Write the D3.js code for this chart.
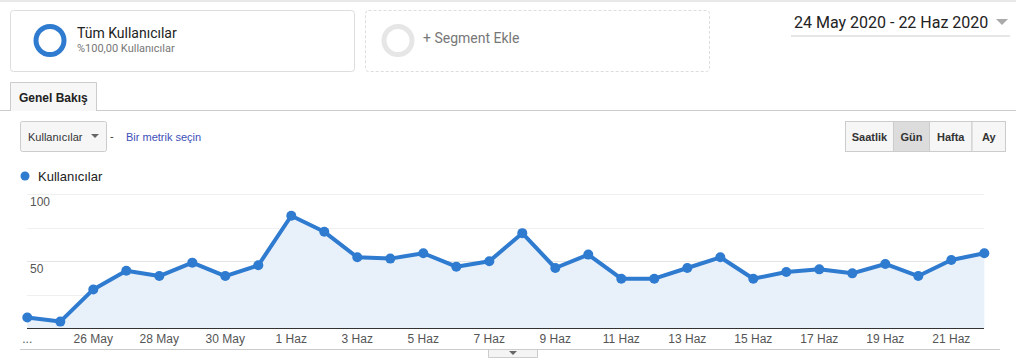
<!DOCTYPE html>
<html><head><meta charset="utf-8">
<script src="https://cdn.jsdelivr.net/npm/d3@7"></script>
<style>
html,body{margin:0;padding:0;background:#fff;}
svg{display:block;}
</style></head><body>
<svg id="c" width="1016" height="364"></svg>
<script>
const dates = ["24 May","25 May","26 May","27 May","28 May","29 May","30 May","31 May","1 Haz","2 Haz","3 Haz","4 Haz","5 Haz","6 Haz","7 Haz","8 Haz","9 Haz","10 Haz","11 Haz","12 Haz","13 Haz","14 Haz","15 Haz","16 Haz","17 Haz","18 Haz","19 Haz","20 Haz","21 Haz","22 Haz"];
const users = [8,5,29,43,39,49,39,47,84,72,53,52,56,46,50,71,45,55,37,37,45,53,37,42,44,41,48,39,51,56];
const xTickLabels = ["...","26 May","28 May","30 May","1 Haz","3 Haz","5 Haz","7 Haz","9 Haz","11 Haz","13 Haz","15 Haz","17 Haz","19 Haz","21 Haz"];
const yTicks = [0,25,50,75,100];
const yLabels = [50,100];
const periodButtons = ["Saatlik","Gün","Hafta","Ay"];

const svg = d3.select("#c");
const ROB = "Roboto, 'Liberation Sans', sans-serif";
const ARI = "'Liberation Sans', Arial, sans-serif";

// top border
svg.append("rect").attr("x",0).attr("y",0).attr("width",1016).attr("height",2).attr("fill","#e8e8e8");

// segment box 1
svg.append("rect").attr("x",10.5).attr("y",10.5).attr("width",344).attr("height",61).attr("rx",3)
  .attr("fill","#fff").attr("stroke","#ddd");
svg.append("circle").attr("cx",50).attr("cy",40.5).attr("r",14).attr("fill","none").attr("stroke","#2f7bd0").attr("stroke-width",5);
svg.append("text").attr("x",77).attr("y",38).attr("font-family",ROB).attr("font-size",14).attr("fill","#222").text("Tüm Kullanıcılar");
svg.append("text").attr("x",77).attr("y",52).attr("font-family",ROB).attr("font-size",11).attr("fill","#777").text("%100,00 Kullanıcılar");

// segment box 2
svg.append("rect").attr("x",365.5).attr("y",10.5).attr("width",344).attr("height",61).attr("rx",3)
  .attr("fill","#fff").attr("stroke","#ddd").attr("stroke-dasharray","3,2");
svg.append("circle").attr("cx",398).attr("cy",40.5).attr("r",14).attr("fill","none").attr("stroke","#e6e6e6").attr("stroke-width",5);
svg.append("text").attr("x",423).attr("y",43).attr("font-family",ROB).attr("font-size",14).attr("fill","#777").text("+ Segment Ekle");

// date range
svg.append("text").attr("x",794).attr("y",28).attr("font-family",ROB).attr("font-size",16).attr("fill","#222").text("24 May 2020 - 22 Haz 2020");
svg.append("path").attr("d","M996,19 L1008,19 L1002,25 Z").attr("fill","#aaa");
svg.append("rect").attr("x",791).attr("y",35).attr("width",219).attr("height",2).attr("fill","#e6e6e6");

// tab
svg.append("line").attr("x1",0).attr("x2",1016).attr("y1",110.5).attr("y2",110.5).attr("stroke","#ccc");
svg.append("path").attr("d","M10.5,111 L10.5,82.5 L96.5,82.5 L96.5,111").attr("fill","#f7f7f7").attr("stroke","#ccc");
svg.append("text").attr("x",19).attr("y",102).attr("font-family",ARI).attr("font-weight","bold").attr("font-size",12).attr("fill","#222").text("Genel Bakış");

// metric dropdown
svg.append("rect").attr("x",20.5).attr("y",121.5).attr("width",86).attr("height",30).attr("rx",2)
  .attr("fill","#f6f6f6").attr("stroke","#ccc");
svg.append("text").attr("x",28).attr("y",141).attr("font-family",ARI).attr("font-size",11).attr("fill","#333").text("Kullanıcılar");
svg.append("path").attr("d","M91,134 L99,134 L95,138 Z").attr("fill","#666");
svg.append("text").attr("x",110).attr("y",140).attr("font-family",ARI).attr("font-size",11).attr("fill","#333").text("-");
svg.append("text").attr("x",126).attr("y",141).attr("font-family",ARI).attr("font-size",11).attr("fill","#3d4fb8").text("Bir metrik seçin");

// period buttons
const bx = [845,893,929,971.5,1005];
const bg = svg.append("g");
periodButtons.forEach((b,i)=>{
  bg.append("rect").attr("x",bx[i]+0.5).attr("y",121.5).attr("width",bx[i+1]-bx[i]).attr("height",30)
    .attr("fill", b==="Gün" ? "#dcdcdc" : "#f6f6f6").attr("stroke","#ccc");
  bg.append("text").attr("x",(bx[i]+bx[i+1])/2+0.5).attr("y",141).attr("text-anchor","middle")
    .attr("font-family",ARI).attr("font-weight","bold").attr("font-size",11).attr("fill","#333").text(b);
});

// legend
svg.append("circle").attr("cx",25).attr("cy",176).attr("r",4.5).attr("fill","#2f7bd0");
svg.append("text").attr("x",38).attr("y",181).attr("font-family",ARI).attr("font-size",13).attr("fill","#222").text("Kullanıcılar");

// chart
const x = d3.scalePoint().domain(dates).range([27.3,984.3]);
const y = d3.scaleLinear().domain([0,100]).range([328.3,194.3]);

svg.append("g").selectAll("line").data(yTicks.filter(d=>d>0)).join("line")
  .attr("x1",27).attr("x2",984).attr("y1",d=>Math.round(y(d))+0.5).attr("y2",d=>Math.round(y(d))+0.5)
  .attr("stroke",d=>d===50?"#e4e4e4":"#efefef");

const data = dates.map((d,i)=>({d,v:users[i]}));
svg.append("path").datum(data)
  .attr("d",d3.area().x(p=>x(p.d)).y0(y(0)).y1(p=>y(p.v)))
  .attr("fill","#e8f0fa");

svg.append("g").selectAll("text").data(yLabels).join("text")
  .attr("x",30).attr("y",d=>y(d)+12).attr("font-family",ARI).attr("font-size",12).attr("fill","#555").text(d=>d);

svg.append("line").attr("x1",27).attr("x2",984).attr("y1",328.5).attr("y2",328.5).attr("stroke","#333").attr("stroke-width",1);

svg.append("path").datum(data)
  .attr("d",d3.line().x(p=>x(p.d)).y(p=>y(p.v)))
  .attr("fill","none").attr("stroke","#2f7bd0").attr("stroke-width",4).attr("stroke-linejoin","round");
svg.append("g").selectAll("circle").data(data).join("circle")
  .attr("cx",p=>x(p.d)).attr("cy",p=>y(p.v)).attr("r",5).attr("fill","#2f7bd0");

// x labels
const xLabelDates = dates.filter((d,i)=>i===0 || (i>=2 && i%2===0));
svg.append("g").selectAll("text").data(xLabelDates).join("text")
  .attr("x",d=>x(d)).attr("y",343).attr("text-anchor","middle")
  .attr("font-family",ARI).attr("font-size",12).attr("fill","#555")
  .text((d,i)=>xTickLabels[i]);

// bottom border + toggle tab
svg.append("line").attr("x1",20).attr("x2",1000).attr("y1",349.5).attr("y2",349.5).attr("stroke","#ccc");
svg.append("path").attr("d","M488.5,350 L488.5,357.5 L537.5,357.5 L537.5,350").attr("fill","#f4f4f4").attr("stroke","#ccc");
svg.append("path").attr("d","M509,351 L517,351 L513,355 Z").attr("fill","#666");
</script>
</body></html>
